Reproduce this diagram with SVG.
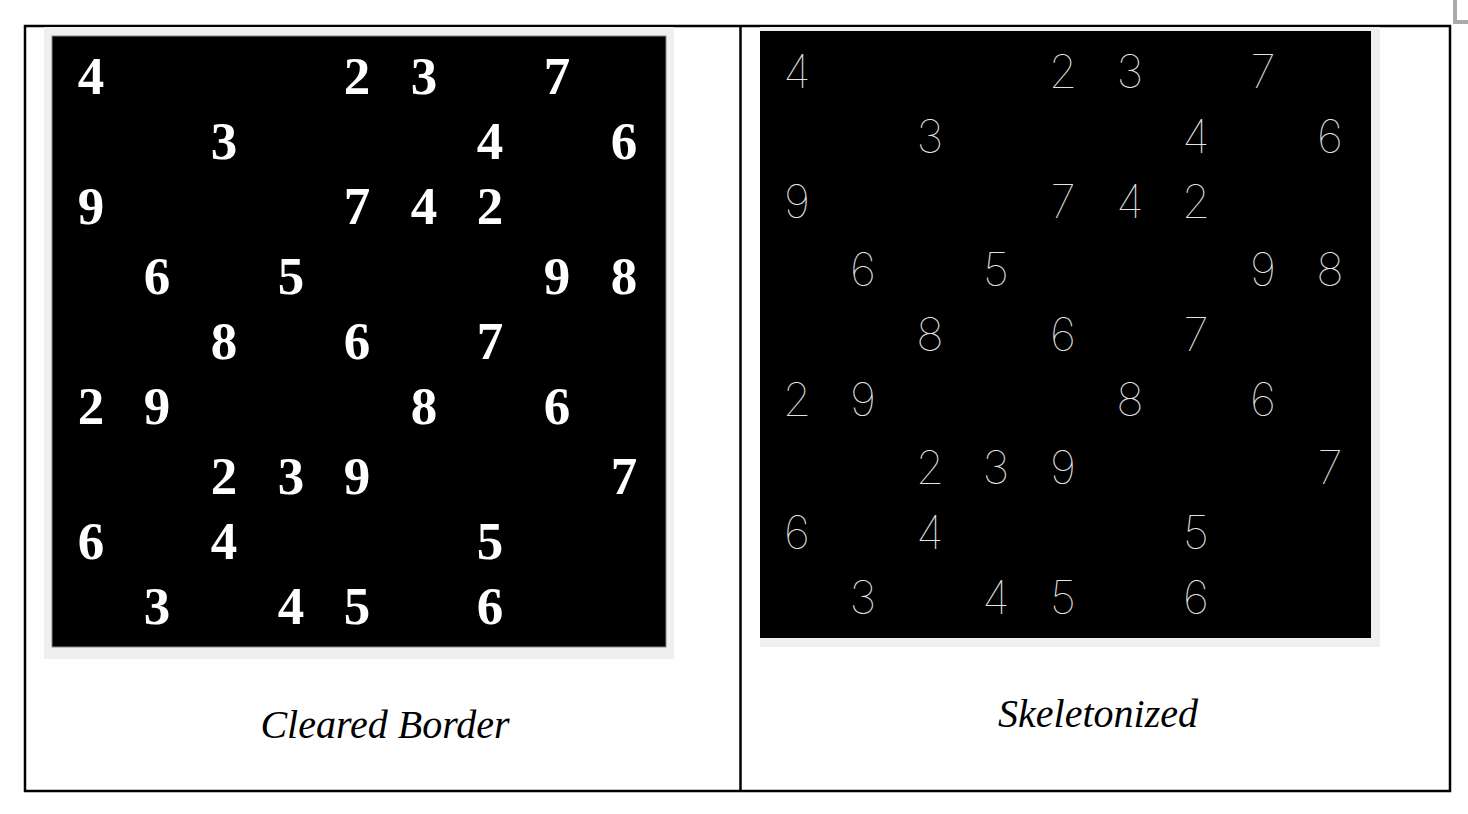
<svg xmlns="http://www.w3.org/2000/svg" width="1468" height="814" viewBox="0 0 1468 814">
<style>
.bold{font-family:"Liberation Serif","Times New Roman",serif;font-weight:bold;font-size:53px;fill:#fff;text-anchor:middle}
.thin{font-family:Inter,"DejaVu Sans",sans-serif;font-weight:100;font-size:46px;fill:#e4e4e4;text-anchor:middle}
.cap{font-family:"Liberation Serif","Times New Roman",serif;font-style:italic;font-size:40px;fill:#000;text-anchor:middle}
</style>
<rect width="1468" height="814" fill="#fff"/>
<polyline points="1455,0 1455,22 1468,22" fill="none" stroke="#aaa" stroke-width="4"/>
<g id="table" fill="none" stroke="#000" stroke-width="2.5">
<rect x="25" y="26" width="1425" height="765"/>
<line x1="740.5" y1="26" x2="740.5" y2="791"/>
</g>
<g id="left-image">
<rect x="44" y="27" width="630" height="632" fill="#efefef"/>
<rect x="52" y="36" width="614" height="611" fill="#000" stroke="#888" stroke-width="1"/>
<g class="bold">
<text x="91" y="94">4</text><text x="357" y="94">2</text><text x="424" y="94">3</text><text x="557" y="94">7</text>
<text x="224" y="159">3</text><text x="490" y="159">4</text><text x="624" y="159">6</text>
<text x="91" y="224">9</text><text x="357" y="224">7</text><text x="424" y="224">4</text><text x="490" y="224">2</text>
<text x="157" y="294">6</text><text x="291" y="294">5</text><text x="557" y="294">9</text><text x="624" y="294">8</text>
<text x="224" y="359">8</text><text x="357" y="359">6</text><text x="490" y="359">7</text>
<text x="91" y="424">2</text><text x="157" y="424">9</text><text x="424" y="424">8</text><text x="557" y="424">6</text>
<text x="224" y="494">2</text><text x="291" y="494">3</text><text x="357" y="494">9</text><text x="624" y="494">7</text>
<text x="91" y="559">6</text><text x="224" y="559">4</text><text x="490" y="559">5</text>
<text x="157" y="624">3</text><text x="291" y="624">4</text><text x="357" y="624">5</text><text x="490" y="624">6</text>
</g>
</g>
<g id="right-image">
<rect x="760" y="27" width="620" height="620" fill="#efefef"/>
<rect x="760" y="31" width="611" height="607" fill="#000"/>
<g class="thin">
<text x="797" y="88">4</text><text x="1063" y="88">2</text><text x="1130" y="88">3</text><text x="1263" y="88">7</text>
<text x="930" y="153">3</text><text x="1196" y="153">4</text><text x="1330" y="153">6</text>
<text x="797" y="218">9</text><text x="1063" y="218">7</text><text x="1130" y="218">4</text><text x="1196" y="218">2</text>
<text x="863" y="286">6</text><text x="996" y="286">5</text><text x="1263" y="286">9</text><text x="1330" y="286">8</text>
<text x="930" y="351">8</text><text x="1063" y="351">6</text><text x="1196" y="351">7</text>
<text x="797" y="416">2</text><text x="863" y="416">9</text><text x="1130" y="416">8</text><text x="1263" y="416">6</text>
<text x="930" y="484">2</text><text x="996" y="484">3</text><text x="1063" y="484">9</text><text x="1330" y="484">7</text>
<text x="797" y="549">6</text><text x="930" y="549">4</text><text x="1196" y="549">5</text>
<text x="863" y="614">3</text><text x="996" y="614">4</text><text x="1063" y="614">5</text><text x="1196" y="614">6</text>
</g>
</g>
<g id="captions">
<text class="cap" x="385" y="738">Cleared Border</text>
<text class="cap" x="1098" y="727">Skeletonized</text>
</g>
</svg>
